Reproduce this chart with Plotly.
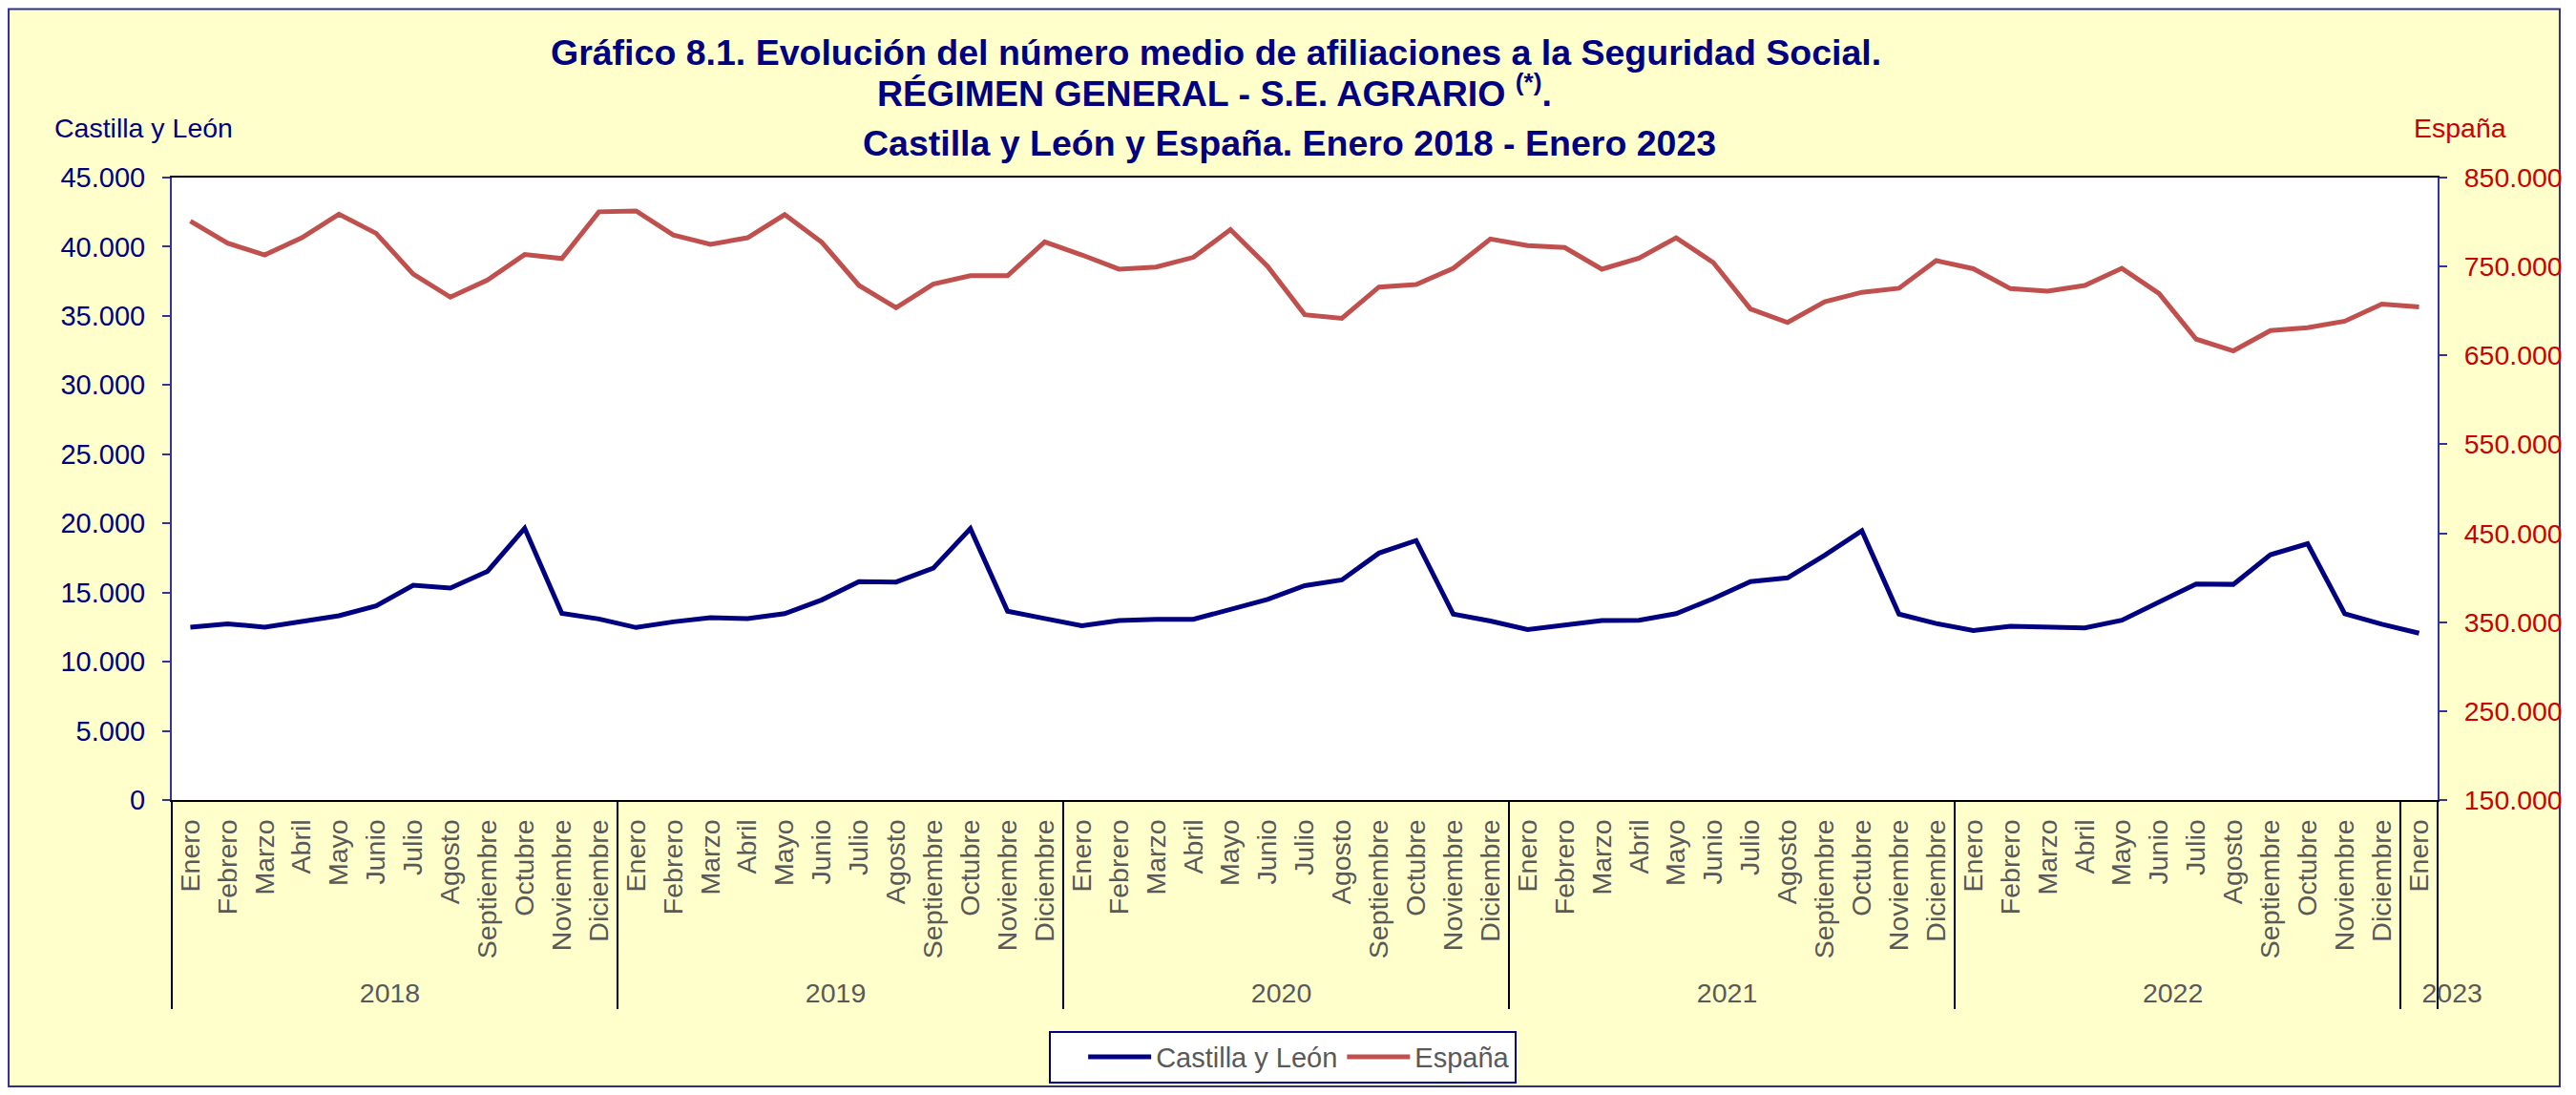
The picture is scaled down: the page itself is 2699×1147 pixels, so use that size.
import plotly.graph_objects as go

MONTHS = ["Enero", "Febrero", "Marzo", "Abril", "Mayo", "Junio", "Julio", "Agosto",
          "Septiembre", "Octubre", "Noviembre", "Diciembre"]
YEARS = ["2018", "2019", "2020", "2021", "2022"]
# la etiqueta de 2023 va desplazada a la derecha, como en el original
LAST_YEAR = "\u00a0" * 10 + "2023"

# Régimen General + S.E. Agrario, afiliaciones medias (ene 2018 - ene 2023)
castilla_leon = [
    12500, 12735, 12500, 12880, 13320, 14030, 15530, 15320, 16530, 19650, 13500, 13090,
    12470, 12880, 13180, 13120, 13470, 14470, 15790, 15760, 16760, 19620, 13650, 13120,
    12600, 12970, 13060, 13060, 13790, 14500, 15500, 15910, 17850, 18760, 13440, 12940,
    12320, 12680, 12970, 13000, 13470, 14560, 15790, 16060, 17700, 19470, 13440, 12760,
    12260, 12560, 12530, 12440, 13000, 14320, 15620, 15590, 17730, 18530, 13470, 12710,
    12060,
]
espana = [
    801000, 776300, 763000, 782300, 808800, 787300, 741500, 715500, 734700, 763500, 758900, 811500,
    812500, 785500, 775000, 782300, 808300, 777200, 728700, 703600, 730100, 739700, 739700, 777700,
    763000, 747000, 749300, 760300, 791400, 750200, 695800, 691700, 726900, 729700, 748000, 780900,
    773600, 771300, 747000, 759400, 782300, 754400, 702200, 687100, 710400, 721000, 725500, 756600,
    747500, 725100, 722300, 728700, 747900, 719600, 668300, 655100, 678000, 681200, 688500, 707700,
    704500,
]

year_labels = [y for y in YEARS for _ in MONTHS] + [LAST_YEAR]
month_labels = MONTHS * len(YEARS) + ["Enero"]

NAVY = "#000080"
RED = "#C0504D"
AXIS_BLUE = "#3333A0"
GREY = "#595959"
FONT = "Arial, Liberation Sans, sans-serif"

fig = go.Figure()
fig.add_trace(go.Scatter(
    x=[year_labels, month_labels], y=castilla_leon,
    mode="lines", name="Castilla y León",
    line=dict(color=NAVY, width=5),
))
fig.add_trace(go.Scatter(
    x=[year_labels, month_labels], y=espana,
    mode="lines", name="España", yaxis="y2",
    line=dict(color=RED, width=5),
))

# marco amarillo del gráfico y fondo blanco del área de trazado
fig.add_shape(
    type="rect", xref="paper", yref="paper",
    x0=-0.0720, x1=1.0539, y0=-0.4602, y1=1.2706,
    fillcolor="#FFFFCC", line=dict(color="#2E2E8F", width=2), layer="below",
)
fig.add_shape(
    type="rect", xref="paper", yref="paper", x0=0, x1=1, y0=0, y1=1,
    fillcolor="white", line=dict(width=0), layer="below",
)

title_font = dict(family=FONT, size=37.5, color=NAVY, weight="bold")
fig.add_annotation(
    text="Gráfico 8.1. Evolución del número medio de afiliaciones a la Seguridad Social.",
    xref="paper", yref="paper", x=0.4610, y=1.2003, xanchor="center", yanchor="middle",
    showarrow=False, font=title_font,
)
fig.add_annotation(
    text="RÉGIMEN GENERAL - S.E. AGRARIO <sup>(*)</sup>.",
    xref="paper", yref="paper", x=0.4603, y=1.1391, xanchor="center", yanchor="middle",
    showarrow=False, font=title_font,
)
fig.add_annotation(
    text="Castilla y León y España. Enero 2018 - Enero 2023",
    xref="paper", yref="paper", x=0.4933, y=1.0550, xanchor="center", yanchor="middle",
    showarrow=False, font=title_font,
)
fig.add_annotation(
    text="Castilla y León", xref="paper", yref="paper", x=-0.0527, y=1.0795,
    xanchor="left", yanchor="middle", showarrow=False,
    font=dict(family=FONT, size=28.5, color=NAVY),
)
fig.add_annotation(
    text="España", xref="paper", yref="paper", x=1.0312, y=1.0795,
    xanchor="right", yanchor="middle", showarrow=False,
    font=dict(family=FONT, size=28.5, color="#CC0000"),
)

fig.update_layout(
    width=2699, height=1147,
    margin=dict(l=180, r=145, t=186, b=307),
    paper_bgcolor="white",
    plot_bgcolor="white",
    separators=",.",
    font=dict(family=FONT),
    showlegend=True,
    legend=dict(
        orientation="h", x=0.4903, xanchor="center", y=-0.4128, yanchor="middle",
        bgcolor="white", bordercolor=NAVY, borderwidth=2, itemwidth=66,
        # un pequeño relleno a la izquierda, como el cuadro de leyenda original
        title=dict(text="\u00a0" * 3, side="left", font=dict(size=29)),
        font=dict(family=FONT, size=29, color=GREY),
    ),
    xaxis=dict(
        type="multicategory", range=[-0.5, 60.5], automargin=False,
        showline=True, linecolor="black", linewidth=2, mirror=True,
        showgrid=False, ticks="", tickangle=-90, ticklabelstandoff=7,
        tickfont=dict(family=FONT, size=28.5, color=GREY),
        showdividers=True, dividercolor="black", dividerwidth=2,
    ),
    yaxis=dict(
        range=[0, 45000], dtick=5000, tickformat=",d", automargin=False,
        showline=True, linecolor=AXIS_BLUE, linewidth=2, showgrid=False, zeroline=False,
        ticks="outside", ticklen=8, tickcolor=AXIS_BLUE, tickwidth=2, ticklabelstandoff=12,
        tickfont=dict(family=FONT, size=29, color=NAVY),
    ),
    yaxis2=dict(
        overlaying="y", side="right", automargin=False,
        range=[150000, 850000], tick0=150000, dtick=100000, tickformat=",d",
        showline=True, linecolor=AXIS_BLUE, linewidth=2, showgrid=False, zeroline=False,
        ticks="outside", ticklen=8, tickcolor=AXIS_BLUE, tickwidth=2, ticklabelstandoff=12,
        tickfont=dict(family=FONT, size=28.5, color="#CC0000"),
    ),
)

# sin margen del <body>, para que la figura ocupe exactamente la ventana
fig.write_html(
    "out.html",
    config={"displayModeBar": False},
    post_script="document.body.style.margin = '0';",
)
